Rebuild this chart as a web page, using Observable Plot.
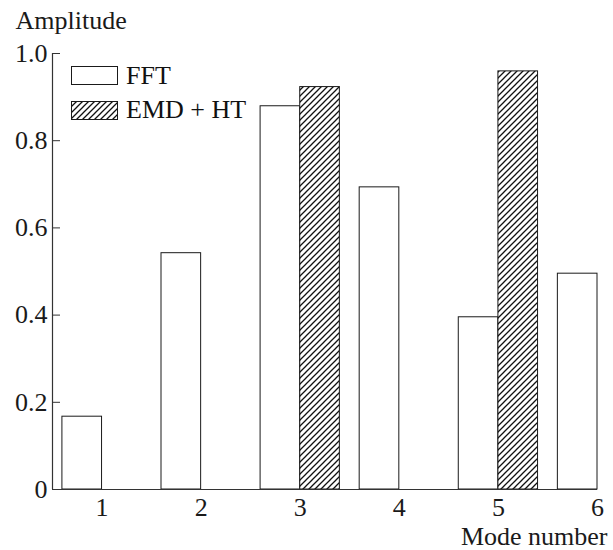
<!DOCTYPE html>
<html>
<head>
<meta charset="utf-8">
<script src="https://cdn.jsdelivr.net/npm/d3@7"></script>
<script src="https://cdn.jsdelivr.net/npm/@observablehq/plot@0.6"></script>
<style>
  html, body { margin: 0; padding: 0; background: #fff; }
  #wrap { position: relative; width: 613px; height: 550px; font-family: "Liberation Serif", "Times New Roman", serif; color: #111; }
  #wrap svg, #wrap svg text { font-family: "Liberation Serif", "Times New Roman", serif !important; font-size: 26px !important; }
  #legend { position: absolute; left: 71px; top: 66px; font-size: 26px; line-height: 1; }
  .row { display: flex; align-items: center; height: 19px; margin-bottom: 15.5px; }
  .row svg { display: block; margin-right: 8px; }
</style>
</head>
<body>
<div id="wrap"></div>
<script>
// ---- data ----
const modes = [1, 2, 3, 4, 5, 6];
const fftValues = [0.167, 0.542, 0.879, 0.693, 0.395, 0.495];
const emdHtValues = [null, null, 0.923, null, 0.959, null];
const seriesNames = ["FFT", "EMD + HT"];
const yTicks = [0, 0.2, 0.4, 0.6, 0.8, 1.0];
const xDomain = [0.5, 6];
const yDomain = [0, 1];

const fftData = modes.map((m, i) => ({mode: m, value: fftValues[i]}));
const emdData = modes.map((m, i) => ({mode: m, value: emdHtValues[i]})).filter(d => d.value != null);

const barW = 0.4;
const ink = "#1a1a1a";

const plot = Plot.plot({
  width: 613,
  height: 550,
  marginLeft: 52,
  marginRight: 16,
  marginTop: 53,
  marginBottom: 61,
  style: {fontFamily: "'Liberation Serif', 'Times New Roman', serif", fontSize: "26px", color: ink, background: "white"},
  x: {domain: xDomain, label: null},
  y: {domain: yDomain, label: null},
  marks: [
    Plot.rectY(fftData, {x1: d => d.mode - barW, x2: d => d.mode, y: "value", fill: "white", stroke: ink, strokeWidth: 1}),
    Plot.rectY(emdData, {x1: d => d.mode, x2: d => d.mode + barW, y: "value", fill: "url(#hatch)", stroke: ink, strokeWidth: 1}),
    Plot.ruleY([yDomain[0]], {x1: xDomain[0], x2: xDomain[1], stroke: "#333", strokeWidth: 1.2}),
    Plot.ruleX([xDomain[0]], {y1: yDomain[0], y2: yDomain[1], stroke: "#333", strokeWidth: 1.2}),
    Plot.axisY({ticks: yTicks, tickSize: -8, tickPadding: 13, stroke: "#333", tickFormat: d => d === 0 ? "0" : d.toFixed(1), label: null, fill: ink}),
    Plot.axisX({ticks: modes, tickSize: 0, tickPadding: 8, tickFormat: d => String(d), label: null, fill: ink}),
    Plot.text(["Amplitude"], {frameAnchor: "top-left", textAnchor: "start", lineAnchor: "bottom", dx: -37, dy: -25, fill: ink}),
    Plot.text(["Mode number"], {frameAnchor: "bottom-right", textAnchor: "end", lineAnchor: "bottom", dx: 10, dy: 55, fill: ink})
  ]
});

const hatchDef = `<pattern id="hatch" patternUnits="userSpaceOnUse" width="6" height="6">
  <rect width="6" height="6" fill="white"/>
  <path d="M-1,1 l2,-2 M0,6 l6,-6 M5,7 l2,-2" stroke="#111" stroke-width="1.3"/>
</pattern>`;
d3.select(plot).insert("defs", ":first-child").html(hatchDef);

const wrap = document.getElementById("wrap");
wrap.appendChild(plot);

// legend overlay
const legend = document.createElement("div");
legend.id = "legend";
legend.innerHTML = seriesNames.map((name, i) => `
  <div class="row">
    <svg width="47" height="19"><defs><pattern id="hatchL${i}" patternUnits="userSpaceOnUse" width="6" height="6">
      <rect width="6" height="6" fill="white"/>
      <path d="M-1,1 l2,-2 M0,6 l6,-6 M5,7 l2,-2" stroke="#111" stroke-width="1.3"/></pattern></defs>
      <rect x="0.5" y="0.5" width="46" height="18" fill="${i === 0 ? "white" : `url(#hatchL${i})`}" stroke="${ink}" stroke-width="1"/></svg>
    <span>${name}</span>
  </div>`).join("");
wrap.appendChild(legend);
</script>
</body>
</html>
